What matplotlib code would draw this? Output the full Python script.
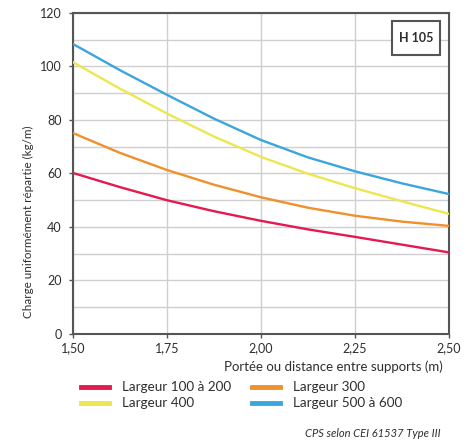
import matplotlib
matplotlib.use("Agg")
import matplotlib.pyplot as plt
from matplotlib.lines import Line2D
from matplotlib.patches import Rectangle

plt.rcParams['font.family'] = ['Lato', 'DejaVu Sans']

portee = [1.50, 1.625, 1.75, 1.875, 2.00, 2.125, 2.25, 2.375, 2.50]
largeur_100_200 = [60.2, 54.9, 50.0, 45.9, 42.3, 39.1, 36.3, 33.4, 30.5]
largeur_300 = [75.1, 67.7, 61.3, 55.8, 51.1, 47.2, 44.2, 42.0, 40.4]
largeur_400 = [101.6, 91.7, 82.4, 73.8, 66.2, 59.9, 54.5, 49.6, 44.9]
largeur_500_600 = [108.4, 98.6, 89.4, 80.5, 72.5, 66.0, 60.8, 56.3, 52.3]

series_labels = ["Largeur 100 à 200", "Largeur 300", "Largeur 400", "Largeur 500 à 600"]
colors = ["#e5194d", "#f0902a", "#ece650", "#3aa6dc"]

x_ticks = [1.50, 1.75, 2.00, 2.25, 2.50]
x_ticklabels = ["1,50", "1,75", "2,00", "2,25", "2,50"]
y_ticks = [0, 20, 40, 60, 80, 100, 120]

TXT = '#2e2e2e'
FS = 9.7

fig = plt.figure(figsize=(4.73, 4.43), dpi=100)
ax = fig.add_axes([0.154, 0.246, 0.795, 0.725])

data = [largeur_100_200, largeur_300, largeur_400, largeur_500_600]
for vals, c in zip(data, colors):
    ax.plot(portee, vals, color=c, lw=1.7, solid_capstyle='round', solid_joinstyle='round', zorder=3)

ax.set_xlim(1.50, 2.50)
ax.set_ylim(0, 120)
ax.set_xticks(x_ticks)
ax.set_xticklabels(x_ticklabels)
ax.set_yticks(y_ticks)
ax.set_yticks(range(10, 120, 20), minor=True)
ax.tick_params(axis='both', which='major', labelsize=9, length=3, width=1, color='#555555', labelcolor=TXT)
ax.tick_params(axis='y', which='major', pad=5)
ax.tick_params(axis='x', which='major', pad=3)
ax.tick_params(axis='y', which='minor', length=0)

ax.grid(True, which='both', axis='y', color='#cfcfcf', lw=1.0, zorder=1)
ax.grid(True, which='major', axis='x', color='#cfcfcf', lw=1.0, zorder=1)
for s in ax.spines.values():
    s.set_color('#555555')
    s.set_linewidth(1.5)

fig.text(0.061, 0.499, "Charge uniformément répartie (kg/m)", fontsize=8.4, color=TXT,
         rotation=90, ha='center', va='center')
fig.text(0.937, 0.173, "Portée ou distance entre supports (m)", fontsize=9.5, color=TXT,
         ha='right', va='center')

# H 105 box
fig.add_artist(Rectangle((0.829, 0.876), 0.101, 0.077, transform=fig.transFigure,
                         fc='white', ec='#555555', lw=1.5, zorder=5))
fig.text(0.879, 0.914, "H 105", fontsize=9, fontweight='bold', color=TXT,
         ha='center', va='center', zorder=6)

# legend
W, H = 473.0, 443.0
leg_pos = [(81, 387), (252, 387), (81, 403), (252, 403)]
leg_order = [0, 1, 2, 3]
for (px, py), i in zip(leg_pos, leg_order):
    fig.add_artist(Line2D([px / W, (px + 28) / W], [1 - py / H, 1 - py / H],
                          transform=fig.transFigure, color=colors[i], lw=3.5))
    fig.text((px + 41) / W, 1 - py / H, series_labels[i], fontsize=FS, color=TXT,
             ha='left', va='center')

fig.text(0.932, 0.01, "CPS selon CEI 61537 Type III", fontsize=8, style='italic', color=TXT,
         ha='right', va='bottom')

fig.savefig("out.png", dpi=100, facecolor='white')
